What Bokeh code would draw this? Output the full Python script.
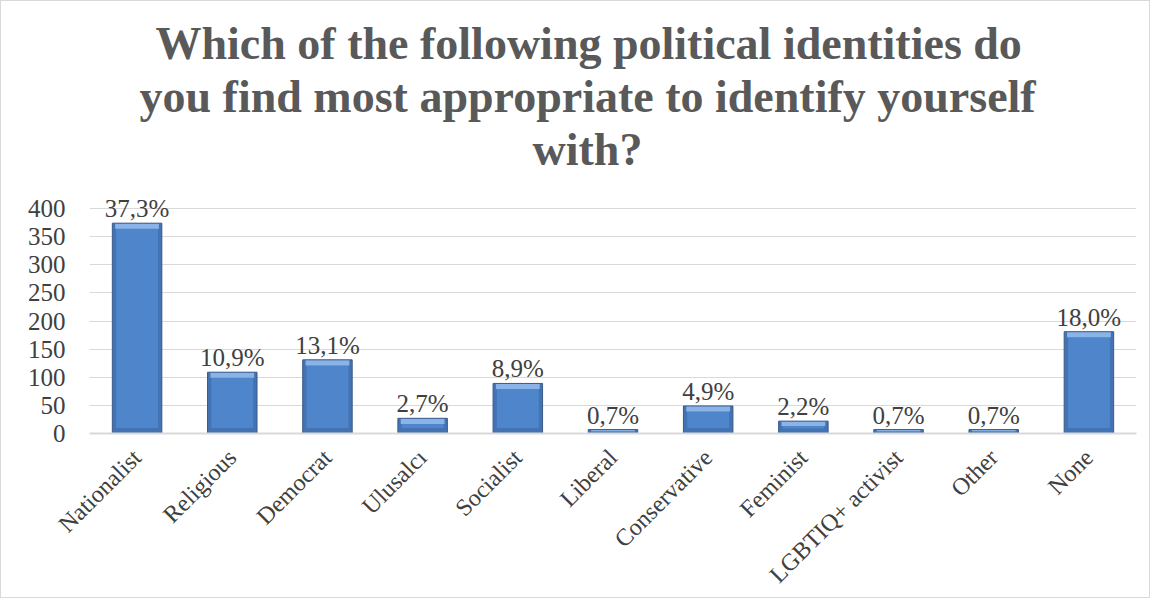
from bokeh.plotting import figure
from bokeh.models import ColumnDataSource, LabelSet, Title, FixedTicker, Range1d
from bokeh.embed import file_html
from bokeh.resources import INLINE
from math import pi

categories = ["Nationalist", "Religious", "Democrat", "Ulusalcı", "Socialist", "Liberal",
              "Conservative", "Feminist", "LGBTIQ+ activist", "Other", "None"]
counts = [374, 109, 131, 27, 89, 7, 49, 22, 7, 7, 181]
percent_labels = ["37,3%", "10,9%", "13,1%", "2,7%", "8,9%", "0,7%", "4,9%", "2,2%", "0,7%", "0,7%", "18,0%"]
y_ticks = [0, 50, 100, 150, 200, 250, 300, 350, 400]
title_lines = ["Which of the following political identities do",
               "you find most appropriate to identify yourself",
               "with?"]

SERIF = "Liberation Serif"
TXT = "#404040"
GRID = "#d9d9d9"
TITLE_COLOR = "#595959"

# bevel depth (in value units) for the Excel-like bar shading
bevel = [min(10, v * 0.4) for v in counts]
face_top = [v - b for v, b in zip(counts, bevel)]
face_bottom = [min(b, v - b) for v, b in zip(counts, bevel)]
hi_bottom = [v - b for v, b in zip(counts, bevel)]

source = ColumnDataSource(dict(cat=categories, val=counts, lab=percent_labels,
                               ftop=face_top, fbot=face_bottom, hbot=hi_bottom))

p = figure(x_range=categories, y_range=Range1d(0, 425), width=1150, height=598,
           output_backend="svg", toolbar_location=None, tools="",
           min_border_left=88, min_border_right=15, min_border_bottom=165, min_border_top=193)

def style_title(t, offset):
    t.text_font = SERIF
    t.text_font_size = "46px"
    t.text_font_style = "bold"
    t.text_color = TITLE_COLOR
    t.align = "left"
    t.offset = offset
    t.standoff = 0

p.title.text = title_lines[0]
style_title(p.title, 66)

t3 = Title(text=title_lines[2])
style_title(t3, 443)
t3.padding = dict(left=0, right=0, top=0, bottom=20)
p.add_layout(t3, "above")
t2 = Title(text=title_lines[1])
style_title(t2, 50)
p.add_layout(t2, "above")

# outer bar (bevel edges)
p.vbar(x="cat", top="val", width=0.52, source=source,
       fill_color="#4473b3", line_color=None)
# bar face
p.vbar(x="cat", top="ftop", bottom="fbot", width=0.44, source=source,
       fill_color="#4f86cb", line_color=None)
# light top bevel
p.vbar(x="cat", top="val", bottom="hbot", width=0.46, source=source,
       fill_color="#8ab4e8", line_color=None)
# outline
p.vbar(x="cat", top="val", width=0.52, source=source,
       fill_color=None, line_color="#3a5a86", line_width=1)

labels = LabelSet(x="cat", y="val", text="lab", source=source, text_align="center",
                  text_baseline="alphabetic", y_offset=6, text_font=SERIF,
                  text_font_size="25px", text_color=TXT)
p.add_layout(labels)

p.outline_line_color = None
p.xgrid.grid_line_color = None
p.ygrid.grid_line_color = GRID
p.ygrid.grid_line_width = 1
p.yaxis.ticker = FixedTicker(ticks=y_ticks)
p.yaxis.axis_line_color = None
p.yaxis.major_tick_line_color = None
p.yaxis.minor_tick_line_color = None
p.yaxis.major_label_standoff = 18
p.yaxis.major_label_text_font = SERIF
p.yaxis.major_label_text_font_size = "25px"
p.yaxis.major_label_text_color = TXT

p.xaxis.axis_line_color = GRID
p.xaxis.axis_line_width = 2
p.xaxis.major_tick_line_color = None
p.xaxis.minor_tick_line_color = None
p.xaxis.major_label_orientation = pi / 4
p.xaxis.major_label_standoff = 14
p.xaxis.major_label_text_font = SERIF
p.xaxis.major_label_text_font_size = "24px"
p.xaxis.major_label_text_color = TXT

p.styles = {"border": "1px solid #d9d9d9"}

open("out.html", "w").write(file_html(p, INLINE))
